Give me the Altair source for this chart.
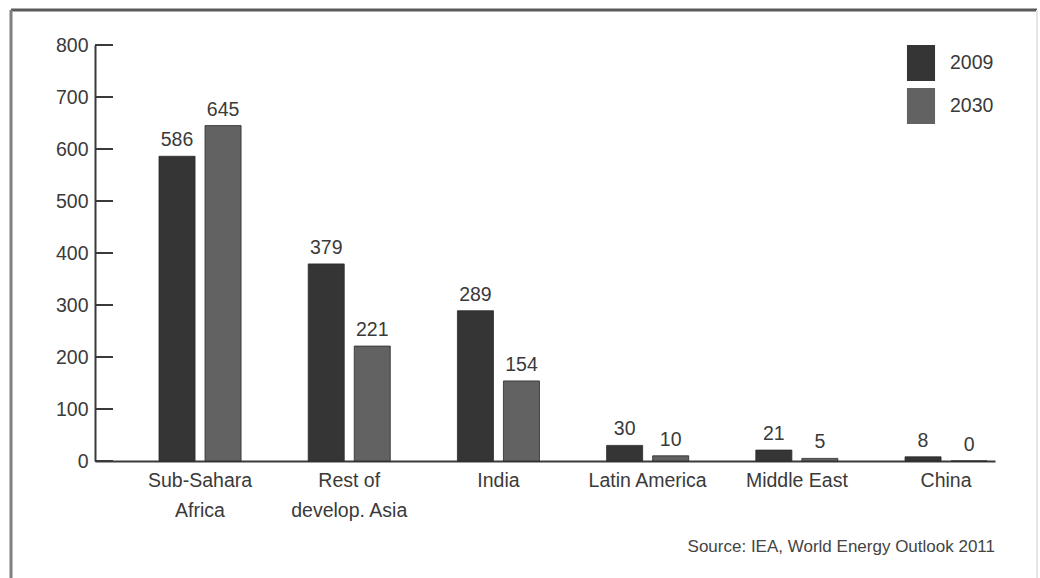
import altair as alt
import pandas as pd

# Population without access to electricity (millions), IEA WEO 2011
regions = [
    "Sub-Sahara\nAfrica",
    "Rest of\ndevelop. Asia",
    "India",
    "Latin America",
    "Middle East",
    "China",
]
years = ["2009", "2030"]
values_2009 = [586, 379, 289, 30, 21, 8]
values_2030 = [645, 221, 154, 10, 5, 0]
y_ticks = [0, 100, 200, 300, 400, 500, 600, 700, 800]
source_note = "Source: IEA, World Energy Outlook 2011"

FONT = "Liberation Sans, Arial, sans-serif"
FS = 19.5
INK = "#3a3a3a"
bar_colors = ["#353535", "#626262"]

rows = []
for r, a, b in zip(regions, values_2009, values_2030):
    rows.append({"region": r, "year": years[0], "value": a})
    rows.append({"region": r, "year": years[1], "value": b})
df = pd.DataFrame(rows)

x_enc = alt.X(
    "region:N",
    sort=regions,
    scale=alt.Scale(paddingInner=0.45, paddingOuter=0.241, align=0.89),
    axis=alt.Axis(
        title=None,
        ticks=False,
        labelAngle=0,
        labelPadding=10,
        labelFontSize=FS,
        labelLineHeight=30,
        labelColor=INK,
        labelFont=FONT,
        domainColor=INK,
        domainWidth=2,
        labelExpr="split(datum.label, '\\n')",
    ),
)
xoff_enc = alt.XOffset(
    "year:N", sort=years, scale=alt.Scale(paddingInner=0.217, paddingOuter=0)
)
y_enc = alt.Y(
    "value:Q",
    scale=alt.Scale(domain=[0, 800], nice=False),
    axis=alt.Axis(
        title=None,
        values=y_ticks,
        ticks=False,
        grid=False,
        labelPadding=7,
        labelFontSize=FS,
        labelColor=INK,
        labelFont=FONT,
        domainColor=INK,
        domainWidth=2,
    ),
)

base = alt.Chart(df)

bars = base.mark_bar(stroke="#2a2a2a", strokeWidth=0.8).encode(
    x=x_enc,
    xOffset=xoff_enc,
    y=y_enc,
    color=alt.Color(
        "year:N",
        sort=years,
        scale=alt.Scale(domain=years, range=bar_colors),
        legend=alt.Legend(
            title=None,
            orient="none",
            legendX=808,
            legendY=0,
            symbolType="M-0.78,-1H0.78V1H-0.78Z",
            symbolSize=1296,
            symbolOpacity=1,
            symbolStrokeWidth=0,
            labelFontSize=FS,
            labelFont=FONT,
            labelColor=INK,
            labelOffset=11,
            rowPadding=7,
            padding=0,
        ),
    ),
)

labels = base.mark_text(
    baseline="alphabetic", dy=-10, fontSize=FS, font=FONT, color=INK
).encode(
    x=alt.X("region:N", sort=regions),
    xOffset=alt.XOffset("year:N", sort=years),
    y=alt.Y("value:Q"),
    text=alt.Text("value:Q"),
)

# inward-pointing y-axis ticks
tick_df = pd.DataFrame({"tick": y_ticks})
ticks = alt.Chart(tick_df).mark_rule(color=INK, strokeWidth=2).encode(
    y=alt.Y("tick:Q"),
    x=alt.value(0),
    x2=alt.value(18),
)

one = pd.DataFrame({"k": [0]})

# source line under the plot, right-aligned with the x axis
source = alt.Chart(one).mark_text(
    text=source_note,
    align="right",
    baseline="alphabetic",
    fontSize=17,
    font=FONT,
    color="#444444",
).encode(x=alt.value(900), y=alt.value(91 + 416))

# outer frame of the figure
frame_top = alt.Chart(one).mark_rule(color="#5a5a5a", strokeWidth=3).encode(
    x=alt.value(-84), x2=alt.value(942), y=alt.value(-35)
)
frame_left = alt.Chart(one).mark_rule(color="#808080", strokeWidth=3).encode(
    x=alt.value(-84), y=alt.value(-35), y2=alt.value(540)
)
frame_right = alt.Chart(one).mark_rule(color="#e6e6e6", strokeWidth=2).encode(
    x=alt.value(942), y=alt.value(-35), y2=alt.value(540)
)

chart = (
    alt.layer(bars, labels, ticks, source, frame_top, frame_left, frame_right)
    .properties(
        width=900,
        height=416,
        padding={"left": 95, "top": 45, "right": 45, "bottom": 117},
        autosize=alt.AutoSizeParams(type="none"),
    )
    .configure(background="white", view=alt.ViewConfig(strokeWidth=0, stroke="transparent"))
)

chart.save("out.html", embed_options={"renderer": "svg", "actions": False})
